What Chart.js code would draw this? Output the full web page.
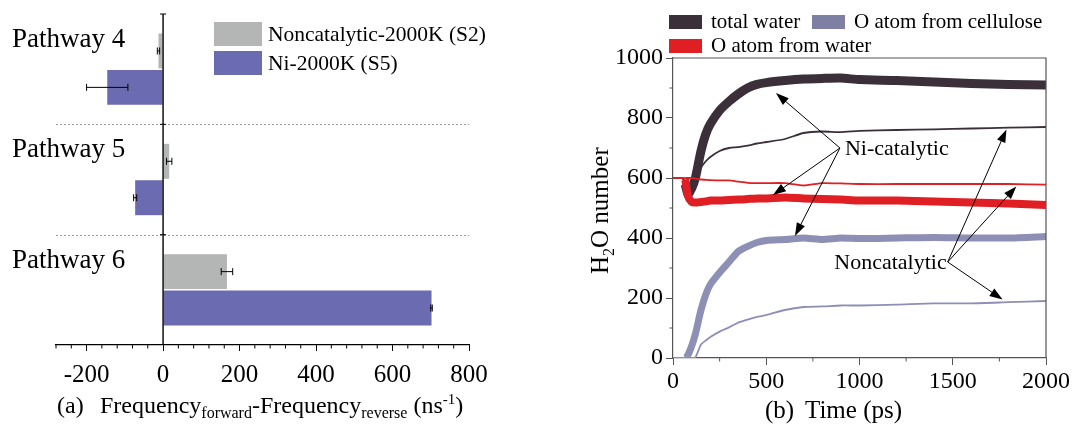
<!DOCTYPE html>
<html>
<head>
<meta charset="utf-8">
<script src="https://cdn.jsdelivr.net/npm/chart.js@4.4.1/dist/chart.umd.min.js"></script>
<style>
    html, body { margin: 0; padding: 0; background: #fff; }
    #wrap { position: relative; width: 1072px; height: 426px; }
    canvas { position: absolute; top: 0; }
    #chartA { left: 0; }
    #chartB { left: 520px; }
</style>
</head>
<body>
<div id="wrap">
    <canvas id="chartA" width="520" height="426"></canvas>
    <canvas id="chartB" width="552" height="426"></canvas>
</div>
<script>
const FONT = "Liberation Serif";
Chart.defaults.font.family = FONT;
Chart.defaults.color = "#000";

// (a) net frequency per pathway
const pathways = ["Pathway 4", "Pathway 5", "Pathway 6"];
const seriesA = ["Noncatalytic-2000K (S2)", "Ni-2000K (S5)"];
const noncatRate = [-12, 16, 167];
const noncatErr = [3, 7, 15];
const niRate = [-146, -73, 702];
const niErr = [54, 4, 2];
const ticksA = [-200, 0, 200, 400, 600, 800];

// (b) H2O number vs time
const legendB = ["total water", "O atom from cellulose", "O atom from water"];
const timePs = [0, 50, 65, 80, 100, 120, 150, 175, 200, 250, 300, 350, 400, 450, 500, 600, 700, 800, 900, 1000, 1200, 1400, 1600, 1800, 2000];
const totalNi = [600, 600, 580, 545, 565, 600, 690, 745, 780, 825, 855, 880, 900, 912, 918, 925, 930, 932, 933, 928, 925, 920, 915, 912, 910];
const totalNon = [600, 600, 580, 550, 575, 605, 635, 655, 670, 690, 700, 703, 708, 715, 720, 730, 750, 755, 753, 757, 760, 762, 765, 768, 770];
const waterNi = [600, 600, 595, 540, 520, 518, 520, 522, 525, 525, 527, 528, 530, 532, 532, 535, 532, 530, 528, 525, 525, 522, 518, 515, 510];
const waterNon = [600, 600, 600, 600, 600, 598, 595, 594, 593, 592, 592, 588, 584, 583, 583, 583, 575, 583, 582, 580, 580, 580, 580, 580, 578];
const celluloseNi = [0, 0, 0, 10, 40, 80, 160, 210, 245, 285, 320, 355, 372, 385, 392, 395, 400, 395, 400, 398, 400, 402, 400, 400, 405];
const celluloseNon = [0, 0, 0, 0, 0, 2, 45, 58, 70, 88, 102, 118, 128, 137, 143, 160, 170, 172, 175, 175, 178, 182, 182, 186, 190];

const GRAY = "#b3b6b5", BLUE = "#6a6bb1";
const DARK = "#3b2f3a", RED = "#e01f25", LAV = "#8e8fb5";

// arrow labels in data units
const notes = [
    { text: "Ni-catalytic", from: [895, 700], align: "left", to: [[552, 883], [536, 543], [654, 407]] },
    { text: "Noncatalytic", from: [1473, 320], align: "right", to: [[1788, 762], [1841, 572], [1767, 195]] },
];

function drawRuns(ctx, x, y, runs) {
    runs.forEach(([t, size, dy]) => {
        ctx.font = size + "px " + FONT;
        ctx.fillText(t, x, y + dy);
        x += ctx.measureText(t).width;
    });
}

function minorTicks(ctx, scale, values, len, horizontal) {
    ctx.beginPath();
    values.forEach(v => {
        const p = scale.getPixelForValue(v);
        if (horizontal) { ctx.moveTo(p, scale.top); ctx.lineTo(p, scale.top + len); }
        else { ctx.moveTo(scale.right, p); ctx.lineTo(scale.right - len, p); }
    });
    ctx.stroke();
}

const decorA = {
    id: "decorA",
    afterDatasetsDraw(chart) {
        const ctx = chart.ctx, area = chart.chartArea, x = chart.scales.x;
        const band = (area.bottom - area.top) / pathways.length;
        ctx.save();
        // dotted separators
        ctx.strokeStyle = "#9a9a9a";
        ctx.lineWidth = 1;
        ctx.setLineDash([2, 2]);
        for (let k = 1; k < pathways.length; k++) {
            const y = Math.round(area.top + k * band) + 0.5;
            ctx.beginPath(); ctx.moveTo(area.left, y); ctx.lineTo(area.right, y); ctx.stroke();
        }
        ctx.setLineDash([]);
        // zero line with small ticks
        const x0 = x.getPixelForValue(0);
        ctx.strokeStyle = "#000";
        ctx.lineWidth = 1.4;
        ctx.beginPath(); ctx.moveTo(x0, area.top); ctx.lineTo(x0, area.bottom); ctx.stroke();
        ctx.lineWidth = 1;
        for (let k = 0; k < pathways.length; k++) {
            const y = area.top + k * band;
            ctx.beginPath(); ctx.moveTo(x0 - 3, y); ctx.lineTo(x0 + 3, y); ctx.stroke();
        }
        // error bars
        const errs = [noncatErr, niErr];
        chart.data.datasets.forEach((ds, di) => {
            chart.getDatasetMeta(di).data.forEach((bar, i) => {
                const a = x.getPixelForValue(ds.data[i] - errs[di][i]);
                const b = x.getPixelForValue(ds.data[i] + errs[di][i]);
                ctx.beginPath();
                ctx.moveTo(a, bar.y); ctx.lineTo(b, bar.y);
                ctx.moveTo(a, bar.y - 3.5); ctx.lineTo(a, bar.y + 3.5);
                ctx.moveTo(b, bar.y - 3.5); ctx.lineTo(b, bar.y + 3.5);
                ctx.stroke();
            });
        });
        // minor ticks every 40
        const minors = [];
        for (let v = -280; v <= 800; v += 40) if (v % 200 !== 0) minors.push(v);
        minorTicks(ctx, x, minors, 3.5, true);
        // category labels
        ctx.fillStyle = "#000";
        ctx.textBaseline = "alphabetic";
        ctx.font = "27px " + FONT;
        pathways.forEach((p, k) => ctx.fillText(p, 12, area.top + k * band + 33));
        // legend
        ctx.font = "21.5px " + FONT;
        chart.data.datasets.forEach((ds, di) => {
            const top = 22 + di * 29;
            ctx.fillStyle = ds.backgroundColor;
            ctx.fillRect(214, top, 48, 24);
            ctx.fillStyle = "#000";
            ctx.textBaseline = "middle";
            ctx.fillText(ds.label, 268, top + 13);
        });
        // axis title
        ctx.textBaseline = "alphabetic";
        drawRuns(ctx, 57, 413, [["(a)", 24, 0]]);
        drawRuns(ctx, 100, 413, [["Frequency", 24, 0], ["forward", 16, 5], ["-Frequency", 24, 0], ["reverse", 16, 5], [" (ns", 24, 0], ["-1", 15, -9], [")", 24, 0]]);
        ctx.restore();
    },
};

new Chart(document.getElementById("chartA").getContext("2d"), {
    type: "bar",
    data: {
        labels: pathways,
        datasets: [
            { label: seriesA[0], data: noncatRate, backgroundColor: GRAY },
            { label: seriesA[1], data: niRate, backgroundColor: BLUE },
        ],
    },
    options: {
        indexAxis: "y",
        responsive: false,
        animation: false,
        layout: { padding: { left: 56, top: 14, right: 51, bottom: 0 } },
        datasets: { bar: { categoryPercentage: 0.66, barPercentage: 0.96 } },
        plugins: { legend: { display: false }, tooltip: { enabled: false } },
        scales: {
            x: {
                min: -280,
                max: 800,
                afterBuildTicks: (s) => { s.ticks = ticksA.map(v => ({ value: v })); },
                afterFit: (s) => { s.height = 81; },
                grid: { drawOnChartArea: false, tickLength: 6, tickColor: "#000", color: "#000" },
                border: { color: "#000", width: 1.2 },
                ticks: { color: "#000", font: { family: FONT, size: 25 }, padding: 9, maxRotation: 0, callback: (v) => String(v) },
            },
            y: { display: false },
        },
    },
    plugins: [decorA],
});

const decorB = {
    id: "decorB",
    afterDatasetsDraw(chart) {
        const ctx = chart.ctx, area = chart.chartArea, x = chart.scales.x, y = chart.scales.y;
        ctx.save();
        // frame
        ctx.strokeStyle = "#555";
        ctx.lineWidth = 1.2;
        ctx.beginPath();
        ctx.moveTo(area.left, area.top); ctx.lineTo(area.right, area.top); ctx.lineTo(area.right, area.bottom);
        ctx.stroke();
        // minor ticks
        ctx.lineWidth = 1;
        minorTicks(ctx, x, [250, 750, 1250, 1750], 3.5, true);
        minorTicks(ctx, y, [100, 300, 500, 700, 900], 3.5, false);
        // arrows
        ctx.strokeStyle = "#000";
        ctx.fillStyle = "#000";
        ctx.font = "22px " + FONT;
        ctx.textBaseline = "middle";
        notes.forEach(n => {
            const ox = x.getPixelForValue(n.from[0]), oy = y.getPixelForValue(n.from[1]);
            ctx.textAlign = n.align;
            ctx.fillText(n.text, n.align === "left" ? ox + 5 : ox - 1, oy + 1);
            n.to.forEach(([tx, ty]) => {
                const px = x.getPixelForValue(tx), py = y.getPixelForValue(ty);
                const ang = Math.atan2(py - oy, px - ox);
                ctx.lineWidth = 1;
                ctx.beginPath(); ctx.moveTo(ox, oy); ctx.lineTo(px - 8 * Math.cos(ang), py - 8 * Math.sin(ang)); ctx.stroke();
                ctx.beginPath();
                ctx.moveTo(px, py);
                ctx.lineTo(px - 13 * Math.cos(ang) + 4.5 * Math.sin(ang), py - 13 * Math.sin(ang) - 4.5 * Math.cos(ang));
                ctx.lineTo(px - 13 * Math.cos(ang) - 4.5 * Math.sin(ang), py - 13 * Math.sin(ang) + 4.5 * Math.cos(ang));
                ctx.closePath(); ctx.fill();
            });
        });
        // legend
        ctx.textAlign = "left";
        ctx.font = "21px " + FONT;
        const boxes = [[149, 15, DARK], [292, 15, "#7d80a3"], [149, 39, RED]];
        legendB.forEach((t, i) => {
            const [bx, by, c] = boxes[i];
            ctx.fillStyle = c;
            ctx.fillRect(bx, by, 33, 14);
            ctx.fillStyle = "#000";
            ctx.fillText(t, bx + 42, by + 7);
        });
        // axis titles
        ctx.textBaseline = "alphabetic";
        drawRuns(ctx, 245, 418, [["(b)", 25, 0]]);
        drawRuns(ctx, 285, 418, [["Time (ps)", 25, 0]]);
        ctx.translate(88, 274);
        ctx.rotate(-Math.PI / 2);
        drawRuns(ctx, 0, 0, [["H", 25, 0], ["2", 16, 6], ["O number", 25, 0]]);
        ctx.restore();
    },
};

function series(values, color, width, order) {
    return {
        data: timePs.map((t, i) => ({ x: t, y: values[i] })),
        borderColor: color,
        borderWidth: width,
        pointRadius: 0,
        tension: 0.2,
        order: order,
        segment: { borderWidth: (c) => (c.p0.parsed.x < 65 ? 1.6 : width) },
    };
}

new Chart(document.getElementById("chartB").getContext("2d"), {
    type: "line",
    data: {
        datasets: [
            series(totalNi, DARK, 9, 3),
            series(totalNon, DARK, 1.8, 3),
            series(waterNi, RED, 8, 1),
            series(waterNon, RED, 1.8, 0),
            series(celluloseNi, LAV, 7, 2),
            series(celluloseNon, LAV, 1.8, 2),
        ],
    },
    options: {
        responsive: false,
        animation: false,
        layout: { padding: { top: 58, right: 25, left: 0, bottom: 0 } },
        plugins: { legend: { display: false }, tooltip: { enabled: false } },
        scales: {
            x: {
                type: "linear",
                min: 0,
                max: 2000,
                afterFit: (s) => { s.height = 68; },
                grid: { drawOnChartArea: false, tickLength: 7, tickColor: "#555", color: "#555" },
                border: { color: "#555", width: 1.2 },
                ticks: { stepSize: 500, color: "#000", font: { family: FONT, size: 24 }, padding: 2, maxRotation: 0, callback: (v) => String(v) },
            },
            y: {
                min: 0,
                max: 1000,
                afterFit: (s) => { s.width = 153; },
                grid: { drawOnChartArea: false, tickLength: 7, tickColor: "#555", color: "#555" },
                border: { color: "#555", width: 1.2 },
                ticks: { stepSize: 200, color: "#000", font: { family: FONT, size: 24 }, padding: 3, callback: (v) => String(v) },
            },
        },
    },
    plugins: [decorB],
});
</script>
</body>
</html>
